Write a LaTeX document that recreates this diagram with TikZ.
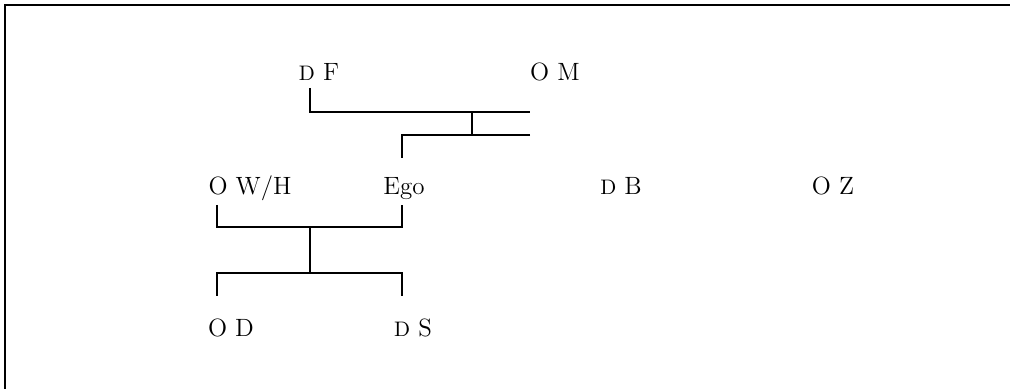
\documentclass[tikz,border=0pt]{standalone}
\begin{document}
\begin{tikzpicture}[x=0.5pt,y=-0.5pt,
  lbl/.style={anchor=base,inner sep=0pt,font=\fontsize{12.5}{15}\selectfont},
  kin/.style={line width=0.9pt}]
\newcommand{\smd}{{\fontsize{10.5}{12}\selectfont D}}
\useasboundingbox (0,0) rectangle (1010,389);
\draw[line width=1pt] (5,5) rectangle (1020,400);
% labels
\node[lbl] (df) at (319,81) {\smd{} F};
\node[lbl] (om) at (555,81) {O M};
\node[lbl] (owh) at (250,195) {O W/H};
\node[lbl] (ego) at (404,195) {Ego};
\node[lbl] (db) at (621,195) {\smd{} B};
\node[lbl] (oz) at (833,195) {O Z};
\node[lbl] (od) at (231,336) {O D};
\node[lbl] (ds) at (413,336) {\smd{} S};
% junction coordinates
\coordinate (f1) at (310,88);
\coordinate (f2) at (310,112);
\coordinate (m1) at (530,112);
\coordinate (c1) at (472,112);
\coordinate (c2) at (472,135);
\coordinate (s1) at (530,135);
\coordinate (e1) at (402,135);
\coordinate (e2) at (402,158);
\coordinate (w1) at (217,205);
\coordinate (w2) at (217,227);
\coordinate (g1) at (402,205);
\coordinate (g2) at (402,227);
\coordinate (p1) at (310,227);
\coordinate (p2) at (310,273);
\coordinate (k1) at (217,273);
\coordinate (k2) at (217,296);
\coordinate (k3) at (402,273);
\coordinate (k4) at (402,296);
% connectors
\draw[kin] (f1) -- (f2) -- (m1);
\draw[kin] (c1) -- (c2);
\draw[kin] (s1) -- (e1) -- (e2);
\draw[kin] (w1) -- (w2) -- (g2) -- (g1);
\draw[kin] (p1) -- (p2);
\draw[kin] (k2) -- (k1) -- (k3) -- (k4);
\end{tikzpicture}
\end{document}
